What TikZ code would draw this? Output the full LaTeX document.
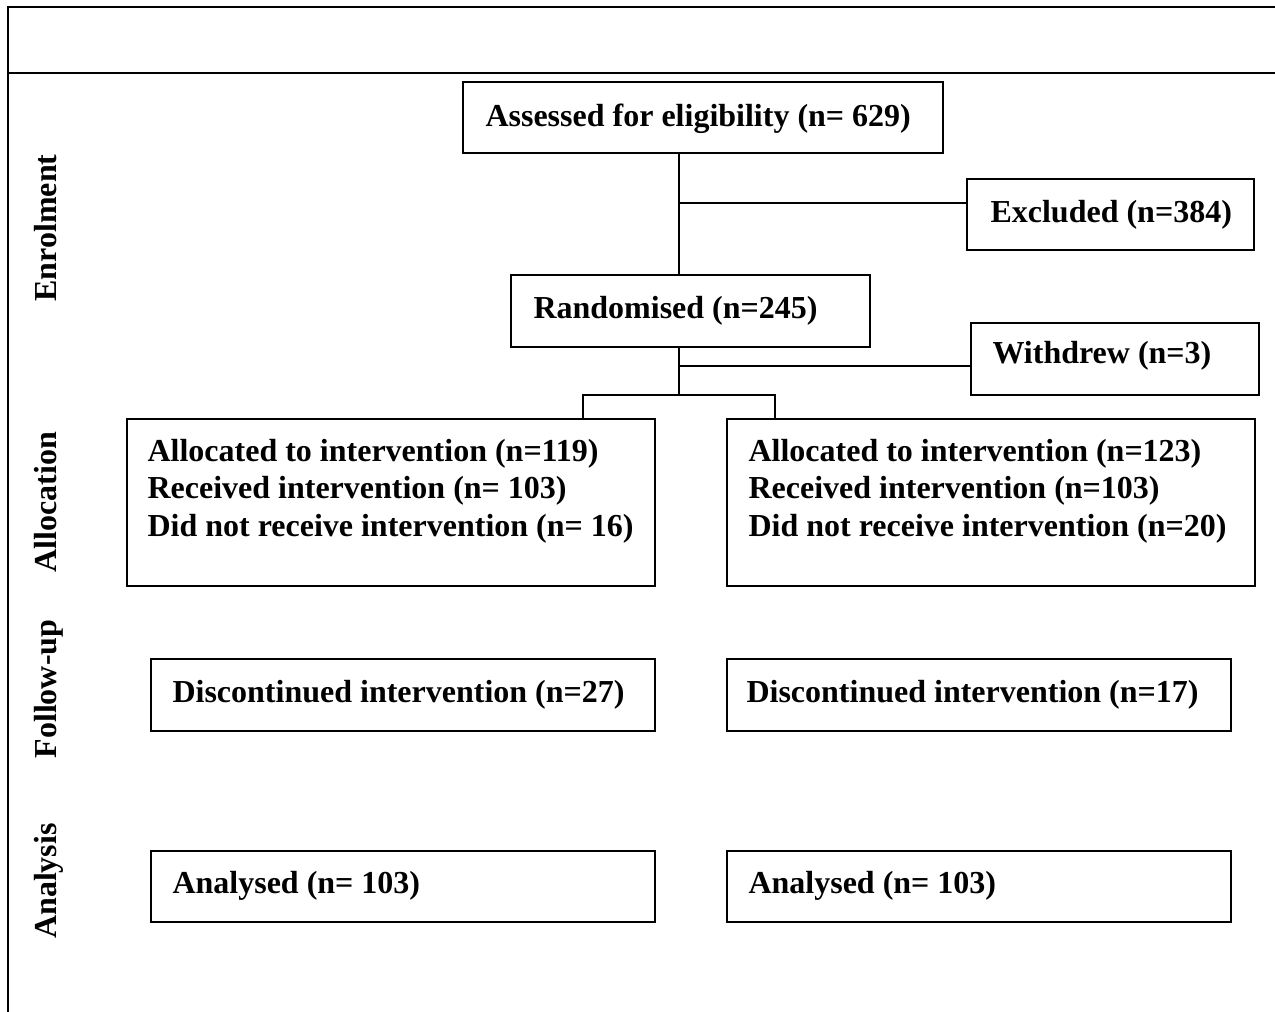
\documentclass[tikz,border=0pt]{standalone}
\usepackage{fontspec}
\setmainfont{Liberation Serif}
\usetikzlibrary{calc}
\begin{document}
\begin{tikzpicture}[x=0.375pt,y=-0.375pt,
  box/.style={draw,line width=0.75pt,outer sep=0pt,inner sep=0pt,anchor=north west},
  conn/.style={line width=0.75pt},
  txt/.style={anchor=base west,inner sep=0pt,font=\fontsize{12}{13.9}\selectfont\bfseries,align=left},
  side/.style={anchor=base,rotate=90,inner sep=0pt,font=\fontsize{12}{13.9}\selectfont\bfseries}]
\useasboundingbox (0,0) rectangle (1275,1012);
% frame
\draw[line width=0.9pt] (8,1012) -- (8,7) -- (1275,7);
\draw[line width=0.8pt] (8,73) -- (1275,73);
% boxes
\node[box,minimum width=480*0.375pt,minimum height=71*0.375pt] (assess) at (463,82) {};
\node[box,minimum width=287*0.375pt,minimum height=71*0.375pt] (excl) at (967,179) {};
\node[box,minimum width=359*0.375pt,minimum height=72*0.375pt] (rand) at (511,275) {};
\node[box,minimum width=288*0.375pt,minimum height=72*0.375pt] (withd) at (971,323) {};
\node[box,minimum width=528*0.375pt,minimum height=167*0.375pt] (allocL) at (127,419) {};
\node[box,minimum width=528*0.375pt,minimum height=167*0.375pt] (allocR) at (727,419) {};
\node[box,minimum width=504*0.375pt,minimum height=72*0.375pt] (fuL) at (151,659) {};
\node[box,minimum width=504*0.375pt,minimum height=72*0.375pt] (fuR) at (727,659) {};
\node[box,minimum width=504*0.375pt,minimum height=71*0.375pt] (anL) at (151,851) {};
\node[box,minimum width=504*0.375pt,minimum height=71*0.375pt] (anR) at (727,851) {};
% texts
\node[txt] (tassess) at (485,127) {Assessed for eligibility (n= 629)};
\node[txt] (texcl) at (990,223) {Excluded (n=384)};
\node[txt] (trand) at (533,319) {Randomised (n=245)};
\node[txt] (twithd) at (992,364) {Withdrew (n=3)};
\node[txt] (tallocL) at (147,536) {Allocated to intervention (n=119)\\Received intervention (n= 103)\\Did not receive intervention (n= 16)};
\node[txt] (tallocR) at (748,536) {Allocated to intervention (n=123)\\Received intervention (n=103)\\Did not receive intervention (n=20)};
\node[txt] (tfuL) at (172,702) {Discontinued intervention (n=27)};
\node[txt] (tfuR) at (746,702) {Discontinued intervention (n=17)};
\node[txt] (tanL) at (172,893) {Analysed (n= 103)};
\node[txt] (tanR) at (748,893) {Analysed (n= 103)};
% side labels
\node[side] (lenr) at (57,228) {Enrolment};
\node[side] (lall) at (57,502) {Allocation};
\node[side] (lfu) at (57,689) {Follow-up};
\node[side] (lan) at (57,881) {Analysis};
% connectors
\coordinate (trunk) at (679,0);
\coordinate (split) at (679,395);
\coordinate (exJ) at ($(excl.north west)+(0,24)$);
\coordinate (wdJ) at ($(withd.north west)+(0,43)$);
\coordinate (sL) at ($(allocL.north west)+(456,0)$);
\coordinate (sR) at ($(allocR.north west)+(48,0)$);
\draw[conn] (assess.south -| trunk) -- (rand.north -| trunk);
\draw[conn] (exJ) -- (exJ -| trunk);
\draw[conn] (rand.south -| split) -- (split);
\draw[conn] (wdJ) -- (wdJ -| trunk);
\draw[conn] (sL) -- (sL |- split) -- (sR |- split) -- (sR);
\end{tikzpicture}
\end{document}
